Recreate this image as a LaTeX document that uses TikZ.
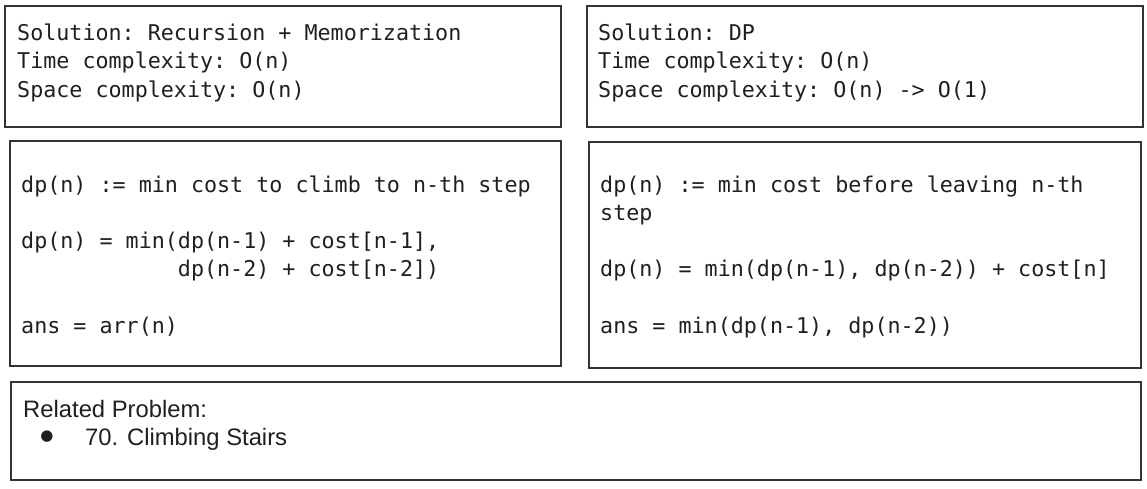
\documentclass[tikz,border=0pt]{standalone}
\usepackage{fontspec}
\setmonofont{DejaVu Sans Mono}
\setsansfont{Liberation Sans}
\newfontfamily\symfont{DejaVu Sans}

\tikzset{
  panel/.style={draw=black!80,line width=1.3pt},
  codetext/.style={font=\ttfamily\fontsize{21.7}{28.2}\selectfont,text=black!88,align=left,inner sep=0pt,anchor=base west},
  plaintext/.style={font=\sffamily\fontsize{23.8}{28}\selectfont,text=black!88,inner sep=0pt,anchor=base west}
}

\begin{document}
\begin{tikzpicture}[x=1pt,y=-1pt]
\useasboundingbox (0,0) rectangle (1147,488);
\draw[panel] (5,6) rectangle (561,127);
\draw[panel] (587,6) rectangle (1143,127);
\draw[panel] (10,141) rectangle (561,366);
\draw[panel] (589,142) rectangle (1141,368);
\draw[panel] (11,382) rectangle (1141,480);
% top row (anchored at the last line)
\node[codetext] (memo) at (17,97) {Solution: Recursion + Memorization\\Time complexity: O(n)\\Space complexity: O(n)};
\node[codetext] (dpsol) at (598,97) {Solution: DP\\Time complexity: O(n)\\Space complexity: O(n) -> O(1)};
% middle row
\node[codetext] (memodef) at (21,333) {dp(n) := min cost to climb to n-th step\\[28.2pt]
dp(n) = min(dp(n-1) + cost[n-1],\\
\phantom{dp(n) = min(}dp(n-2) + cost[n-2])\\[28.2pt]
ans = arr(n)};
\node[codetext] (dpdef) at (600,333) {dp(n) := min cost before leaving n-th\\step\\[28.2pt]
dp(n) = min(dp(n-1), dp(n-2)) + cost[n]\\[28.2pt]
ans = min(dp(n-1), dp(n-2))};
% bottom row
\node[plaintext] (related) at (23,417) {Related Problem:};
\node[plaintext,font=\symfont\fontsize{15}{18}\selectfont,anchor=center] (dot) at (47,437) {●};
\node[plaintext] (stairs) at (85,445) {70. Climbing Stairs};
\end{tikzpicture}
\end{document}
